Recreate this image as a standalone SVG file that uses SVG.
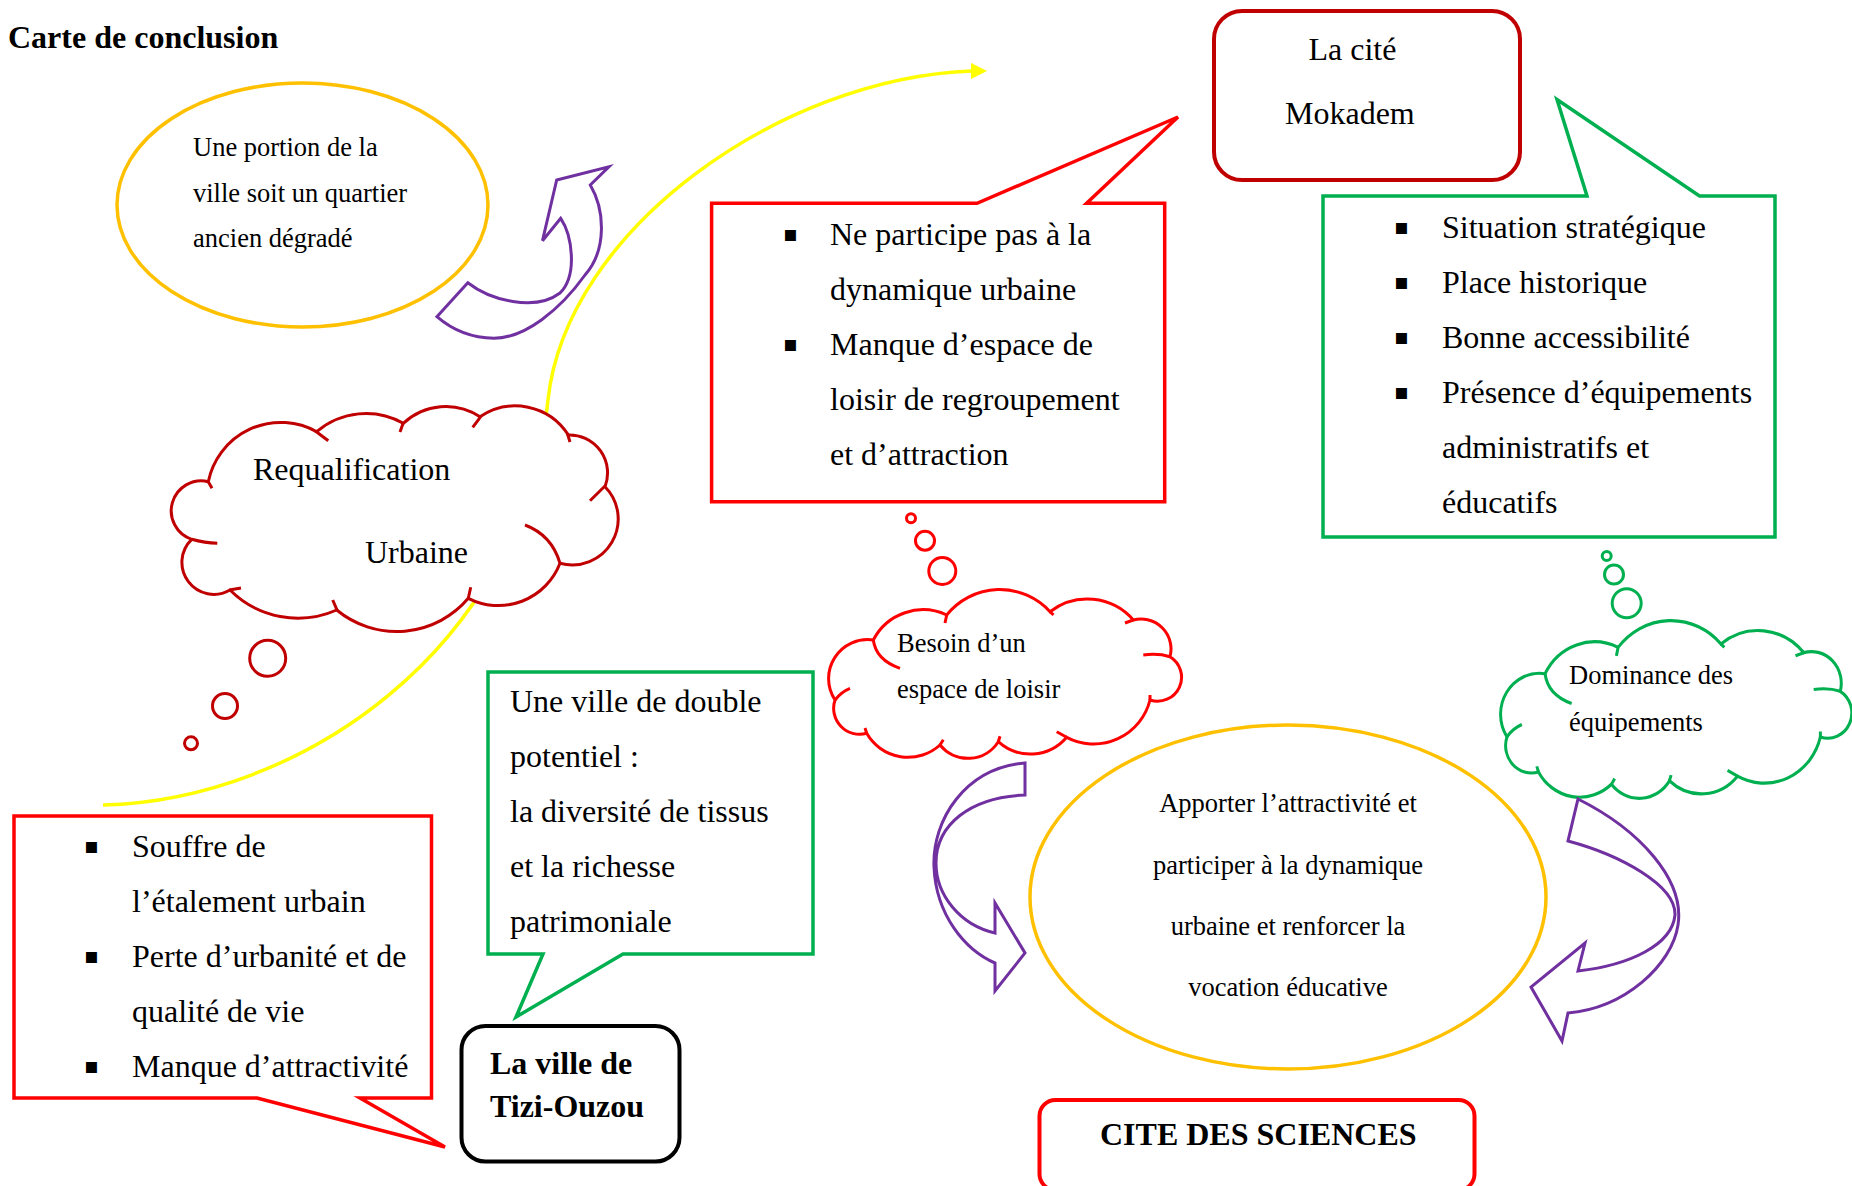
<svg xmlns="http://www.w3.org/2000/svg" width="1852" height="1186" viewBox="0 0 1852 1186">
<style>
.t{font-family:"Liberation Serif","Times New Roman",serif;fill:#000}
.f32{font-size:32px}
.f26{font-size:26.5px}
.b{font-weight:bold}
.bul{font-family:"DejaVu Sans",sans-serif;font-size:22px;fill:#000}
.dr{fill:#fff;stroke:#C00000;stroke-width:3;stroke-linejoin:round}
.rd{fill:#fff;stroke:#FF0000;stroke-width:3.5;stroke-linejoin:miter}
.gr{fill:#fff;stroke:#00B050;stroke-width:3.5;stroke-linejoin:miter}
.tick{fill:none;stroke-width:3;stroke-linecap:butt}
.or{fill:#fff;stroke:#FFC000;stroke-width:3.5}
.pu{fill:#fff;stroke:#7030A0;stroke-width:3;stroke-linejoin:miter}
</style>
<defs>
<g id="cloudB">
<path d="M 873.3 640 A 39 39 0 0 0 835 700 A 26 26 0 0 0 866.7 733.3 A 47.6 47.6 0 0 0 940 745 A 36 36 0 0 0 998.3 741.7 A 47.7 47.7 0 0 0 1066.7 737.3 A 58 58 0 0 0 1150 700 A 24 24 0 0 0 1170 656.7 A 30 30 0 0 0 1133.3 620 A 61 61 0 0 0 1050 611.7 A 68 68 0 0 0 946.7 615 A 56 56 0 0 0 873.3 640 Z"/>
<path class="tick" d="M 873.3 640 Q 876 660 900 668.3 M 835 700 Q 841 692 850 688.3 M 866.7 733.3 L 865 728 M 940 745 L 943.3 739.7 M 998.3 741.7 L 1000 736.3 M 1066.7 737.3 L 1056.7 731.7 M 1150 700 L 1150 695 M 1170 656.7 Q 1158 653 1143.3 655 M 1133.3 620 L 1125 623 M 1050 611.7 L 1053.5 615 M 946.7 615 L 945 623"/>
</g>
</defs>

<g id="connectors">
<path d="M 103 805 C 300 800 522 650 548 400 C 566 230 780 78 972 71" fill="none" stroke="#FFFF00" stroke-width="3.5"/>
<polygon points="971,63 987,71 971,79" fill="#FFFF00"/>
</g>

<g id="title"><text class="t b f32" x="8" y="48">Carte de conclusion</text></g>

<g id="ellipse-portion">
<ellipse class="or" cx="302.5" cy="205" rx="185.5" ry="122"/>
<text class="t f26" x="193" y="156">Une portion de la</text>
<text class="t f26" x="193" y="202">ville soit un quartier</text>
<text class="t f26" x="193" y="247">ancien dégradé</text>
</g>

<g id="cloud-requalification">
<path class="dr" d="M 191.7 539.3 A 30 30 0 0 1 208.3 481.7 A 74 74 0 0 1 316.7 431.7 A 76 76 0 0 1 403.3 423.3 A 62 62 0 0 1 480 416.7 A 63 63 0 0 1 568.3 435 A 38 38 0 0 1 605 486.7 A 46 46 0 0 1 560 563.3 A 66 66 0 0 1 468.3 598.3 A 94 94 0 0 1 336.7 610 A 96 96 0 0 1 230 590 A 32 32 0 0 1 191.7 539.3 Z"/>
<path class="tick" stroke="#C00000" d="M 207.3 480 L 212 488.3 M 315 430.7 L 328.3 440.7 M 403.3 422.7 L 400 432 M 480.7 416.7 L 472.7 427.3 M 567.3 433.3 L 570 442 M 605 486 L 590 500.7 M 525 525 Q 551.7 535 560 563.3 M 468.3 598.3 L 470.7 587.3 M 337.3 610.7 L 332.7 600 M 229.3 590 L 241 588 M 191.7 539.3 Q 205 543 217.3 543.3"/>
<circle class="dr" cx="267.7" cy="658.3" r="18"/>
<circle class="dr" cx="225" cy="706" r="12.5"/>
<circle class="dr" cx="191" cy="743.3" r="6.5"/>
<text class="t f32" x="253" y="480">Requalification</text>
<text class="t f32" x="365" y="563">Urbaine</text>
</g>

<g id="box-mokadem">
<rect x="1214" y="11" width="306" height="169" rx="28" ry="28" fill="#fff" stroke="#C00000" stroke-width="4"/>
<text class="t f32" x="1308.5" y="60">La cité</text>
<text class="t f32" x="1285" y="124">Mokadem</text>
</g>

<g id="callout-mokadem-faiblesses">
<path class="rd" d="M 711.6 203.3 H 977 L 1178 117 L 1086.6 203.3 H 1164.7 V 501.7 H 711.6 Z"/>
<text class="bul" x="783" y="241">▪</text>
<text class="t f32" x="830" y="245">Ne participe pas à la</text>
<text class="t f32" x="830" y="300">dynamique urbaine</text>
<text class="bul" x="783" y="351">▪</text>
<text class="t f32" x="830" y="355">Manque d’espace de</text>
<text class="t f32" x="830" y="410">loisir de regroupement</text>
<text class="t f32" x="830" y="465">et d’attraction</text>
</g>

<g id="callout-mokadem-atouts">
<path class="gr" d="M 1323 196 H 1587 L 1557 99.6 L 1699.5 196 H 1775 V 537 H 1323 Z"/>
<text class="bul" x="1394" y="233.5">▪</text>
<text class="t f32" x="1442" y="237.5">Situation stratégique</text>
<text class="bul" x="1394" y="288.5">▪</text>
<text class="t f32" x="1442" y="292.5">Place historique</text>
<text class="bul" x="1394" y="343.5">▪</text>
<text class="t f32" x="1442" y="347.5">Bonne accessibilité</text>
<text class="bul" x="1394" y="398.5">▪</text>
<text class="t f32" x="1442" y="402.5">Présence d’équipements</text>
<text class="t f32" x="1442" y="457.5">administratifs et</text>
<text class="t f32" x="1442" y="512.5">éducatifs</text>
</g>

<g id="cloud-besoin">
<circle cx="911" cy="518.3" r="4.5" fill="#fff" stroke="#FF0000" stroke-width="3"/>
<circle cx="925" cy="540.7" r="9.5" fill="#fff" stroke="#FF0000" stroke-width="3"/>
<circle cx="942.3" cy="571" r="13.5" fill="#fff" stroke="#FF0000" stroke-width="3"/>
<use href="#cloudB" fill="#fff" stroke="#FF0000" stroke-width="3"/>
<text class="t f26" x="897" y="651.5">Besoin d’un</text>
<text class="t f26" x="897" y="697.5">espace de loisir</text>
</g>

<g id="cloud-dominance">
<circle cx="1606.7" cy="556" r="4.5" fill="#fff" stroke="#00B050" stroke-width="3"/>
<circle cx="1614" cy="574.5" r="9.5" fill="#fff" stroke="#00B050" stroke-width="3"/>
<circle cx="1626.7" cy="603.3" r="14.5" fill="#fff" stroke="#00B050" stroke-width="3"/>
<use href="#cloudB" transform="translate(1497 620) scale(0.995 1.053) translate(-825 -589)" fill="#fff" stroke="#00B050" stroke-width="3"/>
<text class="t f26" x="1569" y="684">Dominance des</text>
<text class="t f26" x="1569" y="730.5">équipements</text>
</g>

<g id="ellipse-apporter">
<ellipse class="or" cx="1288" cy="897" rx="258" ry="172"/>
<text class="t f26" x="1288" y="811.5" text-anchor="middle">Apporter l’attractivité et</text>
<text class="t f26" x="1288" y="874" text-anchor="middle">participer à la dynamique</text>
<text class="t f26" x="1288" y="935" text-anchor="middle">urbaine et renforcer la</text>
<text class="t f26" x="1288" y="995.5" text-anchor="middle">vocation éducative</text>
</g>

<g id="box-cite-sciences">
<rect x="1039.5" y="1100" width="435" height="90" rx="16" ry="16" fill="#fff" stroke="#FF0000" stroke-width="4"/>
<text class="t b f32" x="1100" y="1145">CITE DES SCIENCES</text>
</g>

<g id="callout-tizi-potentiel">
<path class="gr" d="M 488 672 H 813 V 954 H 623 L 516 1017 L 543 954 H 488 Z"/>
<text class="t f32" x="510" y="712.3">Une ville de double</text>
<text class="t f32" x="510" y="767.3">potentiel :</text>
<text class="t f32" x="510" y="822.3">la diversité de tissus</text>
<text class="t f32" x="510" y="877.3">et la richesse</text>
<text class="t f32" x="510" y="932">patrimoniale</text>
</g>

<g id="callout-tizi-problemes">
<path class="rd" d="M 14 816 H 431.5 V 1098 H 360 L 445 1147 L 257 1098 H 14 Z"/>
<text class="bul" x="84" y="853">▪</text>
<text class="t f32" x="132" y="857">Souffre de</text>
<text class="t f32" x="132" y="912">l’étalement urbain</text>
<text class="bul" x="84" y="963">▪</text>
<text class="t f32" x="132" y="967">Perte d’urbanité et de</text>
<text class="t f32" x="132" y="1022">qualité de vie</text>
<text class="bul" x="84" y="1073">▪</text>
<text class="t f32" x="132" y="1077">Manque d’attractivité</text>
</g>

<g id="box-tizi-ouzou">
<rect x="461.5" y="1026" width="218" height="135.5" rx="24" ry="24" fill="#fff" stroke="#000" stroke-width="4"/>
<text class="t b f32" x="490" y="1074">La ville de</text>
<text class="t b f32" x="490" y="1117">Tizi-Ouzou</text>
</g>

<g id="arrows">
<path class="pu" d="M 436.9 316.7 L 467.8 282.7 C 490 300 535 312 560 293 C 578 275 572 235 560.7 218.3 L 542.5 240.7 L 556.7 180 L 608.9 166.7 L 590.3 185 C 605 210 607 250 585 275 C 560 310 525 338 494 338.3 C 470 338 450 328 436.9 316.7 Z"/>
<path class="pu" d="M 1025 763 C 965 768 932 820 934 867 C 936 915 965 950 995 963 L 995 991 L 1025 953 L 995 903 L 995 933 C 960 925 936 895 936 863 C 936 825 970 797 1025 795 Z"/>
<path class="pu" d="M 1578 799 C 1640 830 1685 880 1678 925 C 1672 965 1625 1008 1568 1013 L 1562 1041 L 1531 987 L 1585 943 L 1578 971 C 1630 965 1672 945 1675 915 C 1676 885 1620 855 1568 841 Z"/>
</g>
</svg>
